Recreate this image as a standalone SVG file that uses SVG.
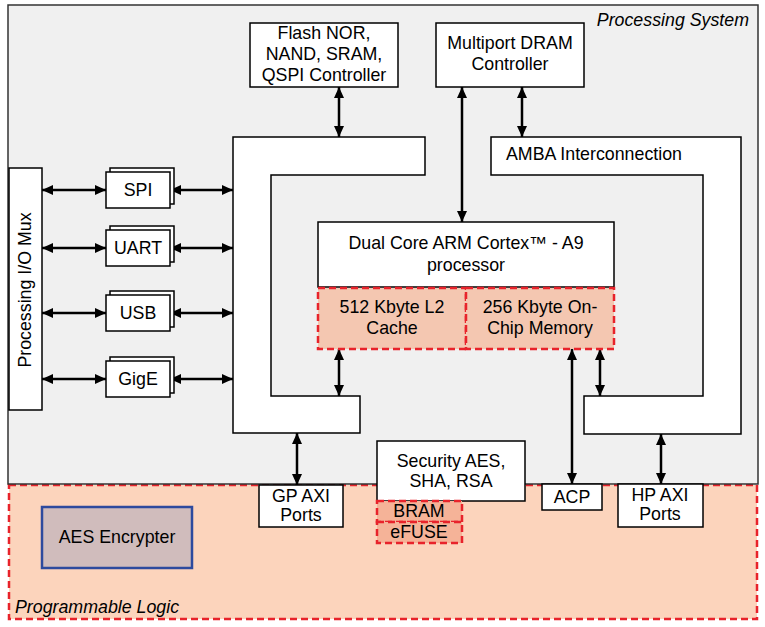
<svg xmlns="http://www.w3.org/2000/svg" width="765" height="627" viewBox="0 0 765 627">
<defs>
<marker id="ah" markerWidth="11" markerHeight="10" refX="11" refY="5" orient="auto-start-reverse" markerUnits="userSpaceOnUse">
<path d="M0,0 L11,5 L0,10 z" fill="#000"/>
</marker>
<style>
text{font-family:"Liberation Sans",Arial,Helvetica,sans-serif;font-size:17.8px;fill:#000;text-anchor:middle}
.it{font-style:italic}
.box{fill:#fff;stroke:#000;stroke-width:1.5}
.dash{stroke:#e8232b;stroke-width:2.5;stroke-dasharray:7,4}
.con{stroke:#000;stroke-width:2.5;fill:none;marker-start:url(#ah);marker-end:url(#ah)}
</style>
</defs>
<rect id="pl" x="9" y="485" width="748" height="134" fill="#fcd4bc" class="dash"/>
<rect id="ps" x="8" y="5" width="750" height="479" fill="#f0f0f0" stroke="#333" stroke-width="1.5"/>
<text class="it" x="749" y="26" style="text-anchor:end">Processing System</text>
<text class="it" x="15" y="613" style="text-anchor:start">Programmable Logic</text>

<g id="connectors">
<line class="con" x1="339" y1="87" x2="339" y2="137"/>
<line class="con" x1="462" y1="87" x2="462" y2="222"/>
<line class="con" x1="522" y1="87" x2="522" y2="137"/>
<line class="con" x1="42" y1="190" x2="106" y2="190"/>
<line class="con" x1="170" y1="190" x2="233" y2="190"/>
<line class="con" x1="42" y1="248" x2="106" y2="248"/>
<line class="con" x1="170" y1="248" x2="233" y2="248"/>
<line class="con" x1="42" y1="313" x2="106" y2="313"/>
<line class="con" x1="170" y1="313" x2="233" y2="313"/>
<line class="con" x1="42" y1="379" x2="106" y2="379"/>
<line class="con" x1="170" y1="379" x2="233" y2="379"/>
<line class="con" x1="339" y1="349" x2="339" y2="396"/>
<line class="con" x1="572" y1="349" x2="572" y2="484"/>
<line class="con" x1="600" y1="349" x2="600" y2="396"/>
<line class="con" x1="661" y1="434" x2="661" y2="484"/>
<line class="con" x1="297" y1="433" x2="297" y2="485"/>
</g>

<g id="flash">
<rect class="box" x="250" y="23" width="148" height="64"/>
<text x="324" y="39">Flash NOR,</text>
<text x="324" y="60">NAND, SRAM,</text>
<text x="324" y="81">QSPI Controller</text>
</g>
<g id="dram">
<rect class="box" x="436" y="23" width="148" height="64"/>
<text x="510" y="49">Multiport DRAM</text>
<text x="510" y="70">Controller</text>
</g>
<g id="left-interconnect">
<polygon class="box" points="233,137 425,137 425,175 271,175 271,396 360,396 360,433 233,433"/>
</g>
<g id="amba">
<polygon class="box" points="491,137 741,137 741,434 584,434 584,396 703,396 703,175 491,175"/>
<text x="506" y="160" style="text-anchor:start">AMBA Interconnection</text>
</g>
<g id="cpu">
<rect class="box" x="318" y="222" width="296" height="65"/>
<text x="466" y="249">Dual Core ARM Cortex™ - A9</text>
<text x="466" y="271">processor</text>
</g>
<g id="l2cache">
<rect x="318" y="288" width="148" height="61" fill="#f4c7b1" class="dash"/>
<text x="392" y="313">512 Kbyte L2</text>
<text x="392" y="334">Cache</text>
</g>
<g id="ocm">
<rect x="466" y="288" width="148" height="61" fill="#f4c7b1" class="dash"/>
<text x="540" y="313">256 Kbyte On-</text>
<text x="540" y="334">Chip Memory</text>
</g>
<g id="iomux">
<rect class="box" x="9" y="168" width="33" height="242"/>
<text transform="translate(31,290) rotate(-90)">Processing I/O Mux</text>
</g>
<g id="spi">
<rect class="box" x="110" y="168" width="64" height="36"/>
<rect class="box" x="106" y="172" width="64" height="36"/>
<text x="138" y="196">SPI</text>
</g>
<g id="uart">
<rect class="box" x="110" y="226" width="64" height="36"/>
<rect class="box" x="106" y="230" width="64" height="36"/>
<text x="138" y="254">UART</text>
</g>
<g id="usb">
<rect class="box" x="110" y="291" width="64" height="36"/>
<rect class="box" x="106" y="295" width="64" height="36"/>
<text x="138" y="319">USB</text>
</g>
<g id="gige">
<rect class="box" x="110" y="357" width="64" height="36"/>
<rect class="box" x="106" y="361" width="64" height="36"/>
<text x="138" y="385">GigE</text>
</g>
<g id="gpaxi">
<rect class="box" x="259" y="485" width="84" height="42"/>
<text x="301" y="502">GP AXI</text>
<text x="301" y="521">Ports</text>
</g>
<g id="security">
<rect class="box" x="377" y="441" width="148" height="60"/>
<text x="451" y="467">Security AES,</text>
<text x="451" y="487">SHA, RSA</text>
</g>
<g id="bram">
<rect x="377" y="501" width="85" height="21" fill="#f5b398" class="dash"/>
<text x="419" y="517">BRAM</text>
</g>
<g id="efuse">
<rect x="377" y="522" width="85" height="21" fill="#f5b398" class="dash"/>
<text x="419" y="538">eFUSE</text>
</g>
<g id="acp">
<rect class="box" x="542" y="484" width="60" height="26"/>
<text x="572" y="503">ACP</text>
</g>
<g id="hpaxi">
<rect class="box" x="618" y="484" width="85" height="43"/>
<text x="660" y="501">HP AXI</text>
<text x="660" y="520">Ports</text>
</g>
<g id="aes">
<rect x="42" y="507" width="150" height="61" fill="#d0bcbc" stroke="#2d4a9e" stroke-width="2.5"/>
<text x="117" y="543">AES Encrypter</text>
</g>
</svg>
